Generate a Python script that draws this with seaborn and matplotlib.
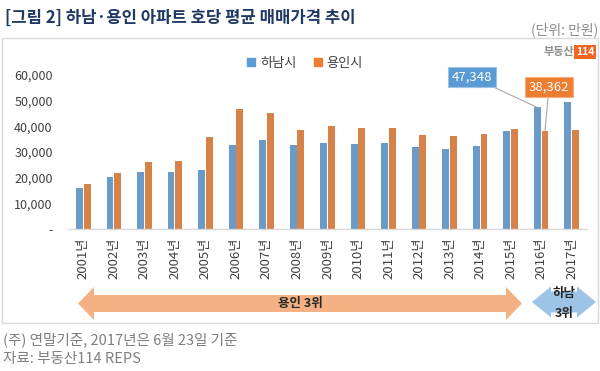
import matplotlib
matplotlib.use("Agg")
import matplotlib.pyplot as plt
import seaborn as sns
import pandas as pd
from matplotlib.patches import Polygon, Rectangle
from matplotlib.lines import Line2D
from matplotlib.ticker import FuncFormatter

years = ['2001년', '2002년', '2003년', '2004년', '2005년', '2006년', '2007년', '2008년', '2009년',
         '2010년', '2011년', '2012년', '2013년', '2014년', '2015년', '2016년', '2017년']
hanam = [15900, 20100, 22200, 22200, 23000, 32700, 34500, 32700, 33700,
         33300, 33700, 32000, 31000, 32300, 38100, 47348, 49500]
yongin = [17400, 21800, 26200, 26600, 35700, 46600, 45300, 38700, 40100,
          39400, 39200, 36800, 36100, 37100, 38800, 38362, 38600]
series_names = ['하남시', '용인시']
y_ticks = [0, 10000, 20000, 30000, 40000, 50000, 60000]

BLUE = '#5B9BD5'
ORANGE = '#ED7D31'

sns.set_theme(style='white')
plt.rcParams['font.family'] = ['Noto Sans CJK KR', 'DejaVu Sans']

W, H = 600, 371
fig = plt.figure(figsize=(6, 3.71), dpi=100)


def px(x, y):
    return (x / W, 1 - y / H)


df = pd.DataFrame({
    'year': years * 2,
    'price': hanam + yongin,
    'city': [series_names[0]] * len(years) + [series_names[1]] * len(years),
})

left, right, top, base = 68, 587, 75, 229
ax = fig.add_axes([left / W, 1 - base / H, (right - left) / W, (base - top) / H])
sns.barplot(data=df, x='year', y='price', hue='city', palette=[BLUE, ORANGE],
            width=0.5, gap=0.1, ax=ax, legend=False, linewidth=0)
ax.set_xlim(-0.5, len(years) - 0.5)
ax.set_ylim(0, 60000)
ax.set_yticks(y_ticks)
ax.yaxis.set_major_formatter(FuncFormatter(lambda v, p: '-' if v == 0 else f'{int(v):,}'))
ax.set_xlabel('')
ax.set_ylabel('')
for s in ['top', 'right', 'left']:
    ax.spines[s].set_visible(False)
ax.spines['bottom'].set_color('#d9d9d9')
ax.spines['bottom'].set_linewidth(1)
ax.tick_params(axis='y', length=0, pad=11, labelsize=9, labelcolor='#404040')
ax.tick_params(axis='x', length=0, pad=6, labelsize=9.5, labelcolor='#404040')
for lab in ax.get_xticklabels():
    lab.set_rotation(90)
    lab.set_va('top')
    lab.set_ha('center')

# callouts
i16 = years.index('2016년')
ax.annotate(f'{hanam[i16]:,}', xy=(i16 - 0.125, hanam[i16]), xycoords='data',
            xytext=px(472, 77), textcoords='figure fraction', ha='center', va='center',
            color='white', fontsize=9.5,
            bbox=dict(boxstyle='square,pad=0.3', fc=BLUE, ec='#9dc3e6', lw=0.8),
            arrowprops=dict(arrowstyle='-', color='#a6a6a6', lw=0.8, shrinkA=0, shrinkB=0),
            annotation_clip=False)
ax.annotate(f'{yongin[i16]:,}', xy=(i16 + 0.125, yongin[i16]), xycoords='data',
            xytext=px(549, 87), textcoords='figure fraction', ha='center', va='center',
            color='white', fontsize=9.5,
            bbox=dict(boxstyle='square,pad=0.3', fc=ORANGE, ec='#f4b183', lw=0.8),
            arrowprops=dict(arrowstyle='-', color='#a6a6a6', lw=0.8, shrinkA=0, shrinkB=0),
            annotation_clip=False)

# frame box
fig.patches.append(Rectangle(px(2, 323), (598 - 2) / W, (323 - 38) / H,
                             transform=fig.transFigure, fill=False, ec='#d9d9d9', lw=1))

# title & unit
fig.text(*px(5, 18), '[그림 2] 하남·용인 아파트 호당 평균 매매가격 추이', ha='left', va='center',
         fontsize=12, fontweight='bold', color='#203864')
fig.text(*px(598, 30), '(단위: 만원)', ha='right', va='center', fontsize=10, color='#8c8c8c')

# logo
fig.text(*px(574, 52), '부동산', ha='right', va='center', fontsize=8, fontweight='bold', color='#8c8c8c')
fig.text(*px(585, 52), '114', ha='center', va='center', fontsize=7.5, fontweight='bold', color='white',
         bbox=dict(boxstyle='square,pad=0.15', fc='#F26522', ec='none'))

# legend
handles = [Line2D([], [], marker='s', ls='none', color=c, markersize=5.5) for c in [BLUE, ORANGE]]
fig.legend(handles, series_names, loc='center', bbox_to_anchor=px(305, 63), ncol=2, frameon=False,
           fontsize=9.5, handlelength=0.6, handletextpad=0.4, columnspacing=1.3, labelcolor='#404040')


# double arrows
def double_arrow(x0, x1, yc, hh, sh, hl, color):
    pts = [(x0, yc), (x0 + hl, yc - hh / 2), (x0 + hl, yc - sh / 2), (x1 - hl, yc - sh / 2),
           (x1 - hl, yc - hh / 2), (x1, yc), (x1 - hl, yc + hh / 2), (x1 - hl, yc + sh / 2),
           (x0 + hl, yc + sh / 2), (x0 + hl, yc + hh / 2)]
    fig.patches.append(Polygon([px(x, y) for x, y in pts], closed=True, transform=fig.transFigure,
                               fc=color, ec='none'))


double_arrow(78, 522, 303.5, 33, 17, 16, '#F4B183')
double_arrow(532, 596, 302, 31, 21, 19, '#9DC3E6')
fig.text(*px(300, 304), '용인 3위', ha='center', va='center', fontsize=9, fontweight='bold', color='#262626')
fig.text(*px(564, 293), '하남', ha='center', va='center', fontsize=9, fontweight='bold', color='#262626')
fig.text(*px(564, 314), '3위', ha='center', va='center', fontsize=9, fontweight='bold', color='#262626')

# footnotes
fig.text(*px(3, 340), '(주) 연말기준, 2017년은 6월 23일 기준', ha='left', va='center', fontsize=10.5, color='#7f7f7f')
fig.text(*px(3, 359), '자료: 부동산114 REPS', ha='left', va='center', fontsize=10.5, color='#7f7f7f')

fig.savefig('out.png', dpi=100)
